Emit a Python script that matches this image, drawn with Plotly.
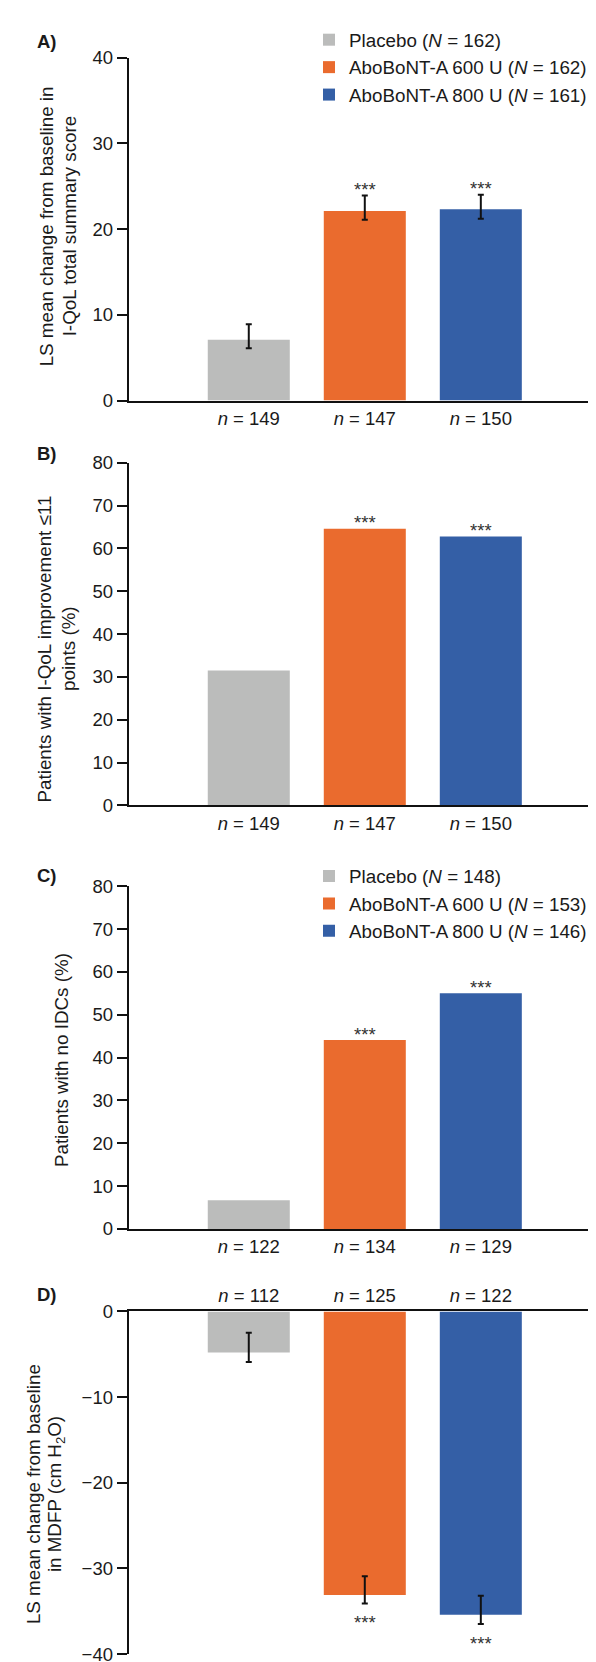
import plotly.graph_objects as go

# ---------------- data ----------------
groups = ["Placebo", "AboBoNT-A 600 U", "AboBoNT-A 800 U"]
colors = ["#BBBCBB", "#EA6B2E", "#345FA6"]

# Panel A: LS mean change from baseline in I-QoL total summary score
a_N = [162, 162, 161]
a_n = [149, 147, 150]
a_values = [7.1, 22.1, 22.3]
a_err_plus = [1.8, 1.8, 1.7]
a_err_minus = [1.0, 1.0, 1.1]
a_stars = ["", "***", "***"]

# Panel B: patients with I-QoL improvement <=11 points (%)
b_n = [149, 147, 150]
b_values = [31.5, 64.6, 62.8]
b_stars = ["", "***", "***"]

# Panel C: patients with no IDCs (%)
c_N = [148, 153, 146]
c_n = [122, 134, 129]
c_values = [6.7, 44.1, 55.0]
c_stars = ["", "***", "***"]

# Panel D: LS mean change from baseline in MDFP (cm H2O)
d_n = [112, 125, 122]
d_values = [-4.8, -33.1, -35.4]
d_err_plus = [2.3, 2.2, 2.2]
d_err_minus = [1.1, 1.0, 1.1]
d_stars = ["", "***", "***"]

a_ticks = [0, 10, 20, 30, 40]
b_ticks = [0, 10, 20, 30, 40, 50, 60, 70, 80]
c_ticks = [0, 10, 20, 30, 40, 50, 60, 70, 80]
d_ticks = [-40, -30, -20, -10, 0]

a_title = ["LS mean change from baseline in", "I-QoL total summary score"]
b_title = ["Patients with I-QoL improvement \u226411", "points (%)"]
c_title = ["Patients with no IDCs (%)"]
d_title = ["LS mean change from baseline", "in MDFP (cm H<sub>2</sub>O)"]

# ---------------- layout helpers ----------------
W, H = 596, 1662
FONT = "Liberation Sans, Arial, Helvetica, sans-serif"
FS = 18.5
FS_TITLE = 18.8
FS_LEG = 18.8
TXT = "#1a1a1a"


def px_x(p):
    return p / W


def px_y(p):
    return 1 - p / H


x_dom = [px_x(120.7), px_x(593)]
panels = [
    dict(top=39, bot=386.5),
    dict(top=449.5, bot=796.5),
    dict(top=878.3, bot=1225.5),
    dict(top=1309, bot=1656),
]

fig = go.Figure()


def n_labels(ns):
    return [f"<i>n</i> = {v}" for v in ns]


def add_bars(idx, values, eplus=None, eminus=None, names=None, legend=None):
    xa = "x" if idx == 1 else f"x{idx}"
    ya = "y" if idx == 1 else f"y{idx}"
    for i, g in enumerate(groups):
        kw = {}
        if eplus is not None:
            kw["error_y"] = dict(type="data", symmetric=False,
                                 array=[eplus[i]], arrayminus=[eminus[i]],
                                 color="#111111", thickness=2, width=3)
        fig.add_trace(go.Bar(
            x=[g], y=[values[i]], xaxis=xa, yaxis=ya,
            marker=dict(color=colors[i], line=dict(width=0)),
            width=0.707,
            name=names[i] if names else g,
            showlegend=names is not None,
            legend=legend if legend else "legend",
            **kw))


add_bars(1, a_values, a_err_plus, a_err_minus,
         names=[f"{g} (<i>N</i> = {n})" for g, n in zip(groups, a_N)], legend="legend")
add_bars(2, b_values)
add_bars(3, c_values,
         names=[f"{g} (<i>N</i> = {n})" for g, n in zip(groups, c_N)], legend="legend2")
add_bars(4, d_values, d_err_plus, d_err_minus)

layout = dict(
    width=W, height=H,
    margin=dict(l=0, r=0, t=0, b=0),
    paper_bgcolor="white", plot_bgcolor="white",
    font=dict(family=FONT, size=FS, color=TXT),
    barmode="group",
    legend=dict(x=px_x(301), y=px_y(2), xanchor="left", yanchor="top",
                bgcolor="rgba(0,0,0,0)", font=dict(size=FS_LEG, color=TXT),
                itemwidth=30, tracegroupgap=0),
    legend2=dict(x=px_x(301), y=px_y(849), xanchor="left", yanchor="top",
                 bgcolor="rgba(0,0,0,0)", font=dict(size=FS_LEG, color=TXT),
                 itemwidth=30, tracegroupgap=0),
)

tick_sets = [a_ticks, b_ticks, c_ticks, d_ticks]
n_sets = [a_n, b_n, c_n, d_n]
for k, p in enumerate(panels, start=1):
    sfx = "" if k == 1 else str(k)
    ticks = tick_sets[k - 1]
    layout[f"xaxis{sfx}"] = dict(
        domain=x_dom, anchor=f"y{sfx}", type="category",
        categoryorder="array", categoryarray=groups,
        range=[-1.035, 3.036],
        tickmode="array", tickvals=groups, ticktext=n_labels(n_sets[k - 1]),
        ticks="", showline=True, linecolor="#111111", linewidth=2,
        showgrid=False, zeroline=False,
        side="top" if k == 4 else "bottom",
        tickfont=dict(size=FS, color=TXT),
        fixedrange=True,
    )
    layout[f"yaxis{sfx}"] = dict(
        domain=[px_y(p["bot"]), px_y(p["top"])], anchor=f"x{sfx}",
        range=[min(ticks), max(ticks)],
        tickmode="array", tickvals=ticks,
        ticks="outside", ticklen=10, tickwidth=1.5, tickcolor="#111111",
        showline=True, linecolor="#111111", linewidth=2,
        showgrid=False, zeroline=False,
        tickfont=dict(size=FS, color=TXT),
        fixedrange=True,
    )

fig.update_layout(**layout)

ann = []
# panel letters
for lab, yc in zip(["A)", "B)", "C)", "D)"], [23, 440, 867, 1292]):
    ann.append(dict(text=f"<b>{lab}</b>", x=px_x(27), y=px_y(yc), xref="paper", yref="paper",
                    xanchor="left", yanchor="middle", showarrow=False,
                    font=dict(size=FS, color=TXT)))

# y-axis titles (each line placed separately)
title_specs = [
    (a_title, [38, 61], 210),
    (b_title, [36.5, 61], 638),
    (c_title, [53.4], 1054),
    (d_title, [25, 48], 1494),
]
for lines, xs, yc in title_specs:
    for line, xc in zip(lines, xs):
        ann.append(dict(text=line, x=px_x(xc), y=px_y(yc), xref="paper", yref="paper",
                        xanchor="center", yanchor="middle", textangle=-90, showarrow=False,
                        font=dict(size=FS_TITLE, color=TXT)))

# significance stars
star_sets = [
    (1, a_values, a_err_plus, a_err_minus, a_stars),
    (2, b_values, None, None, b_stars),
    (3, c_values, None, None, c_stars),
    (4, d_values, d_err_plus, d_err_minus, d_stars),
]
for k, vals, ep, em, st in star_sets:
    sfx = "" if k == 1 else str(k)
    for i, s in enumerate(st):
        if not s:
            continue
        if vals[i] >= 0:
            yv = vals[i] + (ep[i] if ep else 0)
            shift = 6
        else:
            yv = vals[i] - (em[i] if em else 0)
            shift = -19
        ann.append(dict(text=s, x=groups[i], y=yv, xref=f"x{sfx}", yref=f"y{sfx}",
                        xanchor="center", yanchor="middle", yshift=shift, showarrow=False,
                        font=dict(size=FS, color="#333333")))

fig.update_layout(annotations=ann)
fig.write_html("out.html")
